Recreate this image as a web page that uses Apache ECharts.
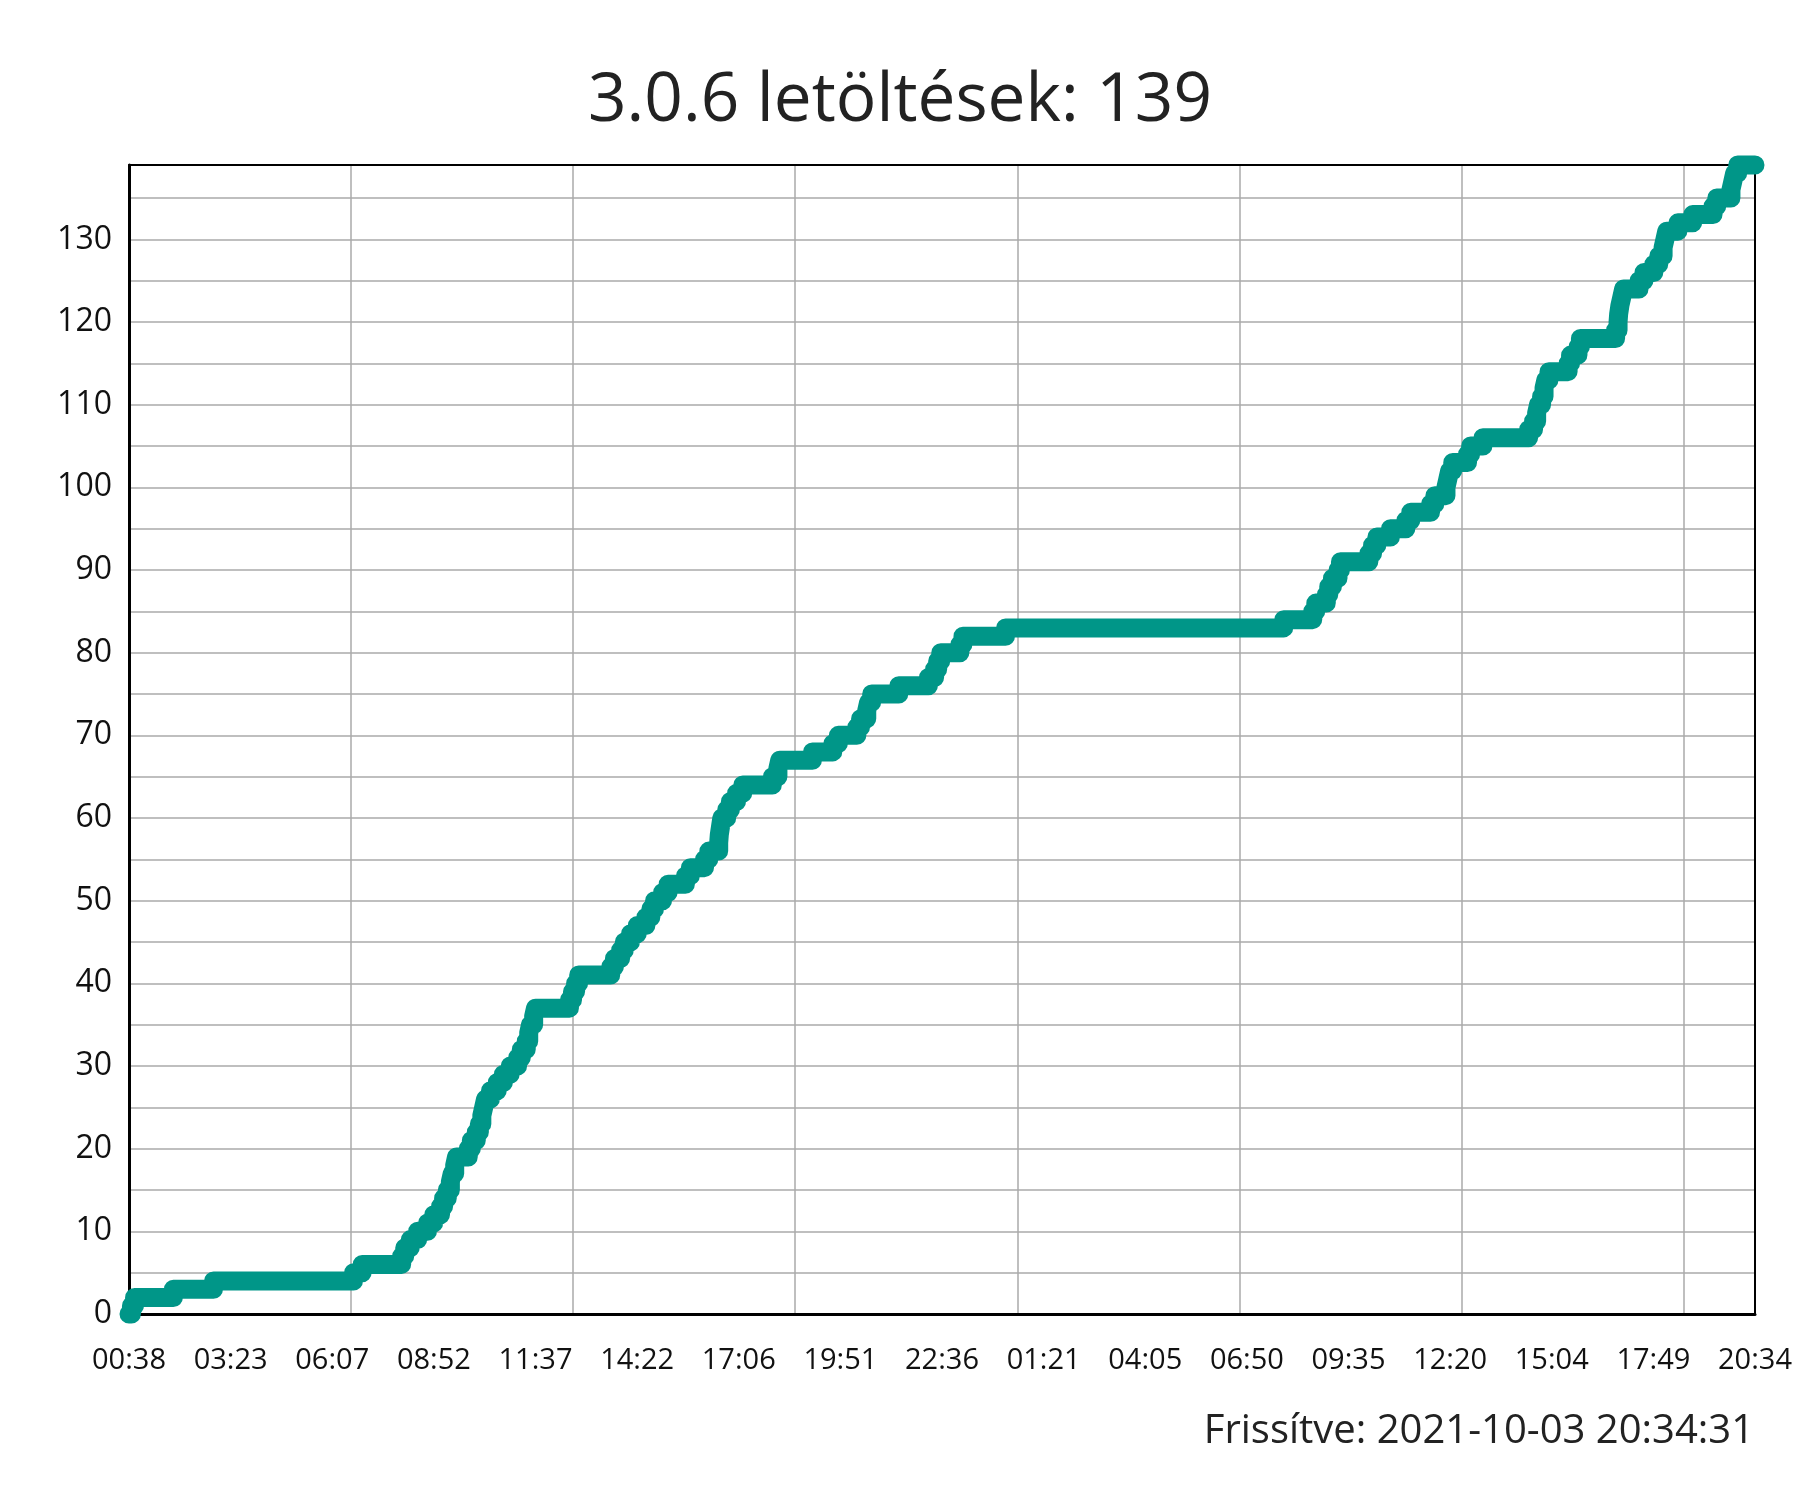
<!DOCTYPE html>
<html>
<head>
<meta charset="utf-8">
<script src="https://cdn.jsdelivr.net/npm/echarts@6/dist/echarts.min.js"></script>
<style>
html,body{margin:0;padding:0;background:#fff;}
#chart{width:1800px;height:1500px;}
</style>
</head>
<body>
<div id="chart"></div>
<script>
// Minutes since the first timestamp (00:38) and the cumulative download count at that moment
const eventMinutes = [0,4,9,72,137,364,378,442,447,456,468,484,494,505,510,516,521,524,528,531,
  550,555,563,568,572,575,578,586,597,607,618,630,636,644,648,651,656,659,714,719,724,729,
  781,787,797,803,813,824,838,846,852,865,874,902,910,933,940,956,957,959,961,969,975,985,995,
  1043,1052,1055,1108,1141,1150,1180,1186,1196,1199,1204,1248,1296,1306,1311,1316,1347,1352,1421,
  1872,1919,1924,1941,1945,1951,1960,1964,2010,2016,2023,2045,2070,2078,2110,2117,2135,2138,2141,2146,
  2170,2175,2195,2269,2277,2282,2285,2290,2294,2297,2302,2333,2337,2349,2353,2410,2414,2415,2417,2420,2423,
  2448,2456,2472,2480,2487,2490,2493,2511,2535,2568,2574,2597,2600,2603,2608,2636];
const downloads = [0,1,2,3,4,5,6,7,8,9,10,11,12,13,14,15,16,17,18,19,
  20,21,22,23,24,25,26,27,28,29,30,31,32,33,34,35,36,37,38,39,40,41,
  42,43,44,45,46,47,48,49,50,51,52,53,54,55,56,57,58,59,60,61,62,63,64,
  65,66,67,68,69,70,71,72,73,74,75,76,77,78,79,80,81,82,83,
  84,85,86,87,88,89,90,91,92,93,94,95,96,97,98,99,100,101,102,103,
  104,105,106,107,108,109,110,111,112,113,114,115,116,117,118,119,120,121,122,123,124,
  125,126,127,128,129,130,131,132,133,134,135,136,137,138,139,139];
const xTickLabels = ['00:38','03:23','06:07','08:52','11:37','14:22','17:06','19:51','22:36',
  '01:21','04:05','06:50','09:35','12:20','15:04','17:49','20:34'];
const spanMinutes = 2636;
const yMax = 139;
const titleText = '3.0.6 letöltések: 139';
const footerText = 'Frissítve: 2021-10-03 20:34:31';

const seriesData = eventMinutes.map((t, i) => [t, downloads[i]]);
const labelStep = spanMinutes / (xTickLabels.length - 1);
const FONT = "'Open Sans', 'Noto Sans', sans-serif";

const chart = echarts.init(document.getElementById('chart'), null, {renderer: 'canvas'});
chart.setOption({
  animation: false,
  backgroundColor: '#ffffff',
  title: {
    text: titleText,
    left: 'center',
    top: 62,
    textStyle: {fontFamily: FONT, fontSize: 67.5, fontWeight: 'normal', color: '#222', lineHeight: 70}
  },
  grid: {left: 129, right: 45, top: 165, bottom: 186, show: false},
  xAxis: [
    {
      type: 'value', min: 0, max: spanMinutes, interval: labelStep, position: 'bottom',
      axisLine: {show: true, onZero: false, lineStyle: {color: '#000', width: 3}},
      axisTick: {show: false},
      splitLine: {show: false},
      axisLabel: {
        show: true, margin: 32, fontFamily: FONT, fontSize: 29, color: '#111',
        formatter: v => xTickLabels[Math.round(v / labelStep)] || ''
      }
    },
    {
      type: 'value', min: 0, max: spanMinutes, interval: 360, position: 'top',
      axisLine: {show: true, onZero: false, lineStyle: {color: '#000', width: 2}},
      axisTick: {show: false},
      axisLabel: {show: false},
      splitLine: {show: true, lineStyle: {color: '#aaaaaa', width: 1.5}}
    }
  ],
  yAxis: [
    {
      type: 'value', min: 0, max: yMax, interval: 5, position: 'left',
      axisLine: {show: true, onZero: false, lineStyle: {color: '#000', width: 3}},
      axisTick: {show: false},
      splitLine: {show: true, lineStyle: {color: '#aaaaaa', width: 1.5}},
      axisLabel: {
        show: true, margin: 17, fontFamily: FONT, fontSize: 32, color: '#111',
        padding: [7, 0, 0, 0],
        formatter: v => (v % 10 === 0 ? String(v) : '')
      }
    },
    {
      type: 'value', min: 0, max: yMax, position: 'right',
      axisLine: {show: true, onZero: false, lineStyle: {color: '#000', width: 2}},
      axisTick: {show: false}, axisLabel: {show: false}, splitLine: {show: false}
    }
  ],
  series: [{
    type: 'line',
    xAxisIndex: 0,
    yAxisIndex: 0,
    step: 'end',
    data: seriesData,
    showSymbol: false,
    symbol: 'none',
    clip: false,
    z: 5,
    lineStyle: {color: '#009688', width: 19, cap: 'round', join: 'round'}
  }],
  graphic: [{
    type: 'text',
    x: 1754, y: 1432,
    style: {
      text: footerText, fontFamily: FONT, fontSize: 40, fill: '#222',
      textAlign: 'right', textVerticalAlign: 'middle'
    }
  }]
});
</script>
</body>
</html>
